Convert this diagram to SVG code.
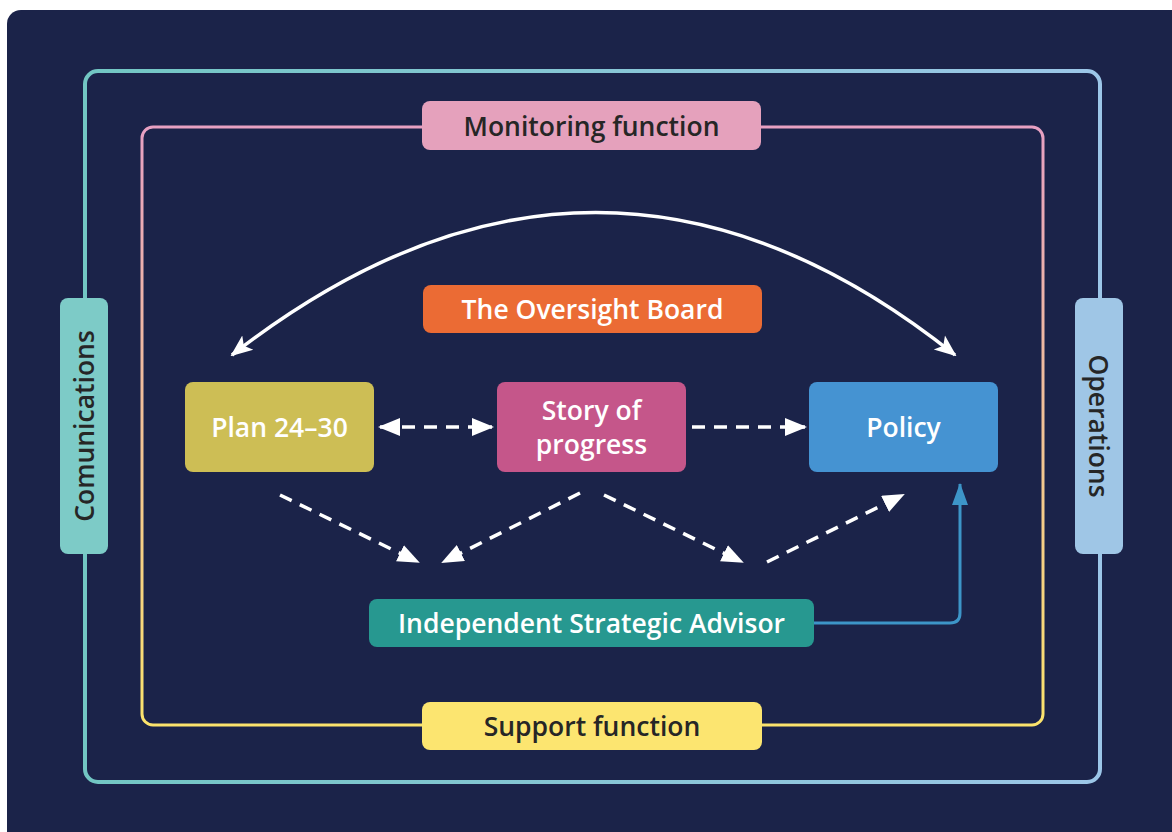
<svg xmlns="http://www.w3.org/2000/svg" width="1172" height="832" viewBox="0 0 1172 832">
<defs>
<linearGradient id="gOuter" x1="0" y1="0" x2="1" y2="0">
<stop offset="0" stop-color="#72c6c3"/><stop offset="1" stop-color="#9cc6e8"/>
</linearGradient>
<linearGradient id="gInner" x1="0" y1="0" x2="0" y2="1">
<stop offset="0" stop-color="#e7a0c2"/><stop offset="1" stop-color="#fbe36c"/>
</linearGradient>
<marker id="aw" viewBox="0 0 22 20" refX="20" refY="10" markerWidth="22" markerHeight="20" markerUnits="userSpaceOnUse" orient="auto-start-reverse">
<path d="M0,1 L22,10 L0,19 L5,10 z" fill="#ffffff"/>
</marker>
<marker id="ad" viewBox="0 0 22 18" refX="20" refY="9" markerWidth="22" markerHeight="18" markerUnits="userSpaceOnUse" orient="auto-start-reverse">
<path d="M0,0 L22,9 L0,18 z" fill="#ffffff"/>
</marker>
<marker id="ab" viewBox="0 0 16 22" refX="8" refY="1" markerWidth="16" markerHeight="22" markerUnits="userSpaceOnUse" orient="0">
<path d="M8,0 L16,22 L0,22 z" fill="#3d95c8"/>
</marker>
<style>
.lbl{font-family:"Open Sans","Noto Sans","Liberation Sans",sans-serif;font-size:26.5px;font-weight:600;text-anchor:middle;dominant-baseline:central}
.dark{fill:#262626}
.white{fill:#ffffff}
.dash{fill:none;stroke:#ffffff;stroke-width:3.5;stroke-dasharray:13 9;marker-end:url(#ad)}
</style>
</defs>
<rect x="7" y="10" width="1180" height="840" rx="14" fill="#1b2349"/>
<rect x="85" y="71" width="1015" height="711" rx="13" fill="none" stroke="url(#gOuter)" stroke-width="4"/>
<rect x="142" y="127" width="901" height="598" rx="11" fill="none" stroke="url(#gInner)" stroke-width="3"/>

<g id="connectors">
<path d="M232,355 Q598,70 955,355" fill="none" stroke="#ffffff" stroke-width="3.5" marker-start="url(#aw)" marker-end="url(#aw)"/>
<path d="M380,427 L492,427" class="dash" marker-start="url(#ad)"/>
<path d="M692,427 L805,427" class="dash"/>
<path d="M280,495 L418,562" class="dash"/>
<path d="M580,493 L443,562" class="dash"/>
<path d="M604,495 L742,562" class="dash"/>
<path d="M767,562 L903,495" class="dash"/>
<path d="M814,623 L950,623 Q960,623 960,613 L960,484" fill="none" stroke="#3d95c8" stroke-width="3" marker-end="url(#ab)"/>
</g>

<g id="monitoring">
<rect x="422" y="101" width="339" height="49" rx="8" fill="#e5a1bc"/>
<text x="591.5" y="125.5" class="lbl dark">Monitoring function</text>
</g>
<g id="oversight">
<rect x="423" y="285" width="339" height="48" rx="8" fill="#eb6b34"/>
<text x="592.5" y="308.5" class="lbl white">The Oversight Board</text>
</g>
<g id="plan">
<rect x="185" y="382" width="189" height="90" rx="8" fill="#cdbe55"/>
<text x="279.5" y="426.5" class="lbl white">Plan 24–30</text>
</g>
<g id="story">
<rect x="497" y="382" width="189" height="90" rx="8" fill="#c5568a"/>
<text x="591.5" y="410" class="lbl white">Story of</text>
<text x="591.5" y="443.5" class="lbl white">progress</text>
</g>
<g id="policy">
<rect x="809" y="382" width="189" height="90" rx="8" fill="#4593d2"/>
<text x="903.5" y="426.5" class="lbl white">Policy</text>
</g>
<g id="advisor">
<rect x="369" y="599" width="445" height="48" rx="8" fill="#279890"/>
<text x="591.5" y="622.5" class="lbl white">Independent Strategic Advisor</text>
</g>
<g id="support">
<rect x="422" y="702" width="340" height="48" rx="8" fill="#fce570"/>
<text x="592" y="725.5" class="lbl dark">Support function</text>
</g>
<g id="communications">
<rect x="60" y="298" width="48" height="256" rx="8" fill="#7dcbc7"/>
<text x="84" y="426" class="lbl dark" transform="rotate(-90 84 426)">Comunications</text>
</g>
<g id="operations">
<rect x="1075" y="298" width="48" height="256" rx="8" fill="#9fc6e6"/>
<text x="1099" y="426" class="lbl dark" transform="rotate(90 1099 426)">Operations</text>
</g>
</svg>
